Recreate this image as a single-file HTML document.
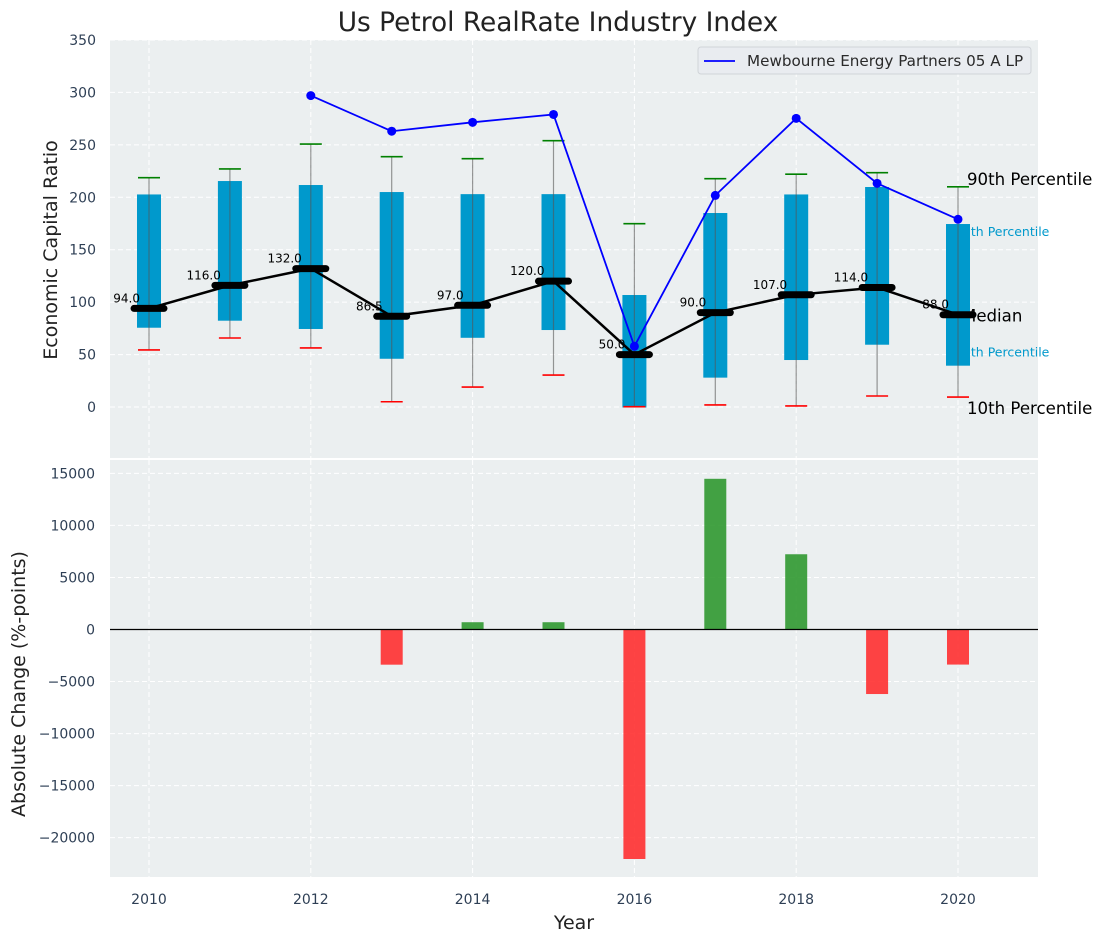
<!DOCTYPE html>
<html><head><meta charset="utf-8"><style>
body{margin:0;background:#fff;}
svg{display:block;font-family:"DejaVu Sans","Liberation Sans",sans-serif;}
</style></head><body>
<svg id="chart" width="1102" height="942" viewBox="0 0 1102 942" xmlns="http://www.w3.org/2000/svg"></svg>
<script>
const years = [2010,2011,2012,2013,2014,2015,2016,2017,2018,2019,2020];
const p10 = [54.4,65.8,56.3,5,19,30.5,0.3,2,1,10.5,9.5];
const p25 = [75.6,82.3,74.4,46,66,73.4,-0.5,28,44.8,59.4,39.4];
const median = [94,116,132,86.5,97,120,50,90,107,114,88];
const p75 = [202.7,215.5,211.7,205,203,203,106.8,185,202.7,209.8,174.5];
const p90 = [218.7,227,250.8,238.7,236.8,254,174.8,217.7,222,223.5,210];
const company = [null,null,297,263,271.5,279,57.9,201.8,275.3,213.3,179];
const changes = [0,0,0,-3380,700,700,-22050,14480,7230,-6200,-3370];
const topTicks = [0,50,100,150,200,250,300,350];
const botTicks = [-20000,-15000,-10000,-5000,0,5000,10000,15000];
const xTicks = [2010,2012,2014,2016,2018,2020];

const svg = document.getElementById('chart');
const NS = 'http://www.w3.org/2000/svg';
function el(tag, attrs, parent){const e=document.createElementNS(NS,tag);for(const k in attrs)e.setAttribute(k,attrs[k]);(parent||svg).appendChild(e);return e;}
const X0=110,X1=1038,T0=40,T1=458,B0=460,B1=877;
function xS(y){return 149+(y-2010)*80.9;}
function yT(v){return 407-v*(367/350);}
function yB(v){return 629.5-v*(52.04/5000);}

let bg=el('rect',{x:X0,y:T0,width:X1-X0,height:T1-T0,fill:'#ebeff0'});


bg=el('rect',{x:X0,y:B0,width:X1-X0,height:B1-B0,fill:'#ebeff0'});



xTicks.forEach(t=>{
  el('line',{x1:xS(t),x2:xS(t),y1:T0,y2:T1,stroke:'#fff','stroke-dasharray':'5,3','stroke-width':1});
  el('line',{x1:xS(t),x2:xS(t),y1:B0,y2:B1,stroke:'#fff','stroke-dasharray':'5,3','stroke-width':1});
  const tl=el('text',{x:xS(t),y:904,'font-size':14,fill:'#2e3f55','text-anchor':'middle'});tl.textContent=t;
  
  
});
topTicks.forEach(t=>{
  el('line',{x1:X0,x2:X1,y1:yT(t),y2:yT(t),stroke:'#fff','stroke-dasharray':'5,3','stroke-width':1});
  const tl=el('text',{x:96,y:yT(t)+5,'font-size':14,fill:'#2e3f55','text-anchor':'end'});tl.textContent=t;
  
  
});
botTicks.forEach(t=>{
  el('line',{x1:X0,x2:X1,y1:yB(t),y2:yB(t),stroke:'#fff','stroke-dasharray':'5,3','stroke-width':1});
  const tl=el('text',{x:95,y:yB(t)+5,'font-size':14,fill:'#2e3f55','text-anchor':'end'});tl.textContent=(t<0?'\u2212'+(-t):t);
  
  
});

const last=years.length-1;
function ann(txt,x,y,size,color,name){const t=el('text',{x:x,y:y,'font-size':size,fill:color});t.textContent=txt;
  
  }
ann('90th Percentile',xS(years[last])+9,yT(p90[last])-2,16.6,'#000','p90-label');
ann('75th Percentile',xS(years[last])-3,yT(p75[last])+12,12.5,'#0099cc','p75-label');
ann('25th Percentile',xS(years[last])-3,yT(p25[last])-9,12.5,'#0099cc','p25-label');
ann('Median',xS(years[last])+4,yT(median[last])+7,16.6,'#000','median-label');
ann('10th Percentile',xS(years[last])+9,yT(p10[last])+17,16.6,'#000','p10-label');

years.forEach((yr,i)=>{
  const cx=xS(yr);
  const b=el('rect',{x:cx-12,y:yT(p75[i]),width:24,height:yT(p25[i])-yT(p75[i]),fill:'#0099cc'});
  
  
  const w=el('line',{x1:cx,x2:cx,y1:yT(p90[i]),y2:yT(p10[i]),stroke:'#555','stroke-opacity':0.6,'stroke-width':1.2});
  
  
  const cu=el('line',{x1:cx-11,x2:cx+11,y1:yT(p90[i]),y2:yT(p90[i]),stroke:'green','stroke-width':1.6});
  
  
  const cl=el('line',{x1:cx-11,x2:cx+11,y1:yT(p10[i]),y2:yT(p10[i]),stroke:'red','stroke-width':1.6});
  
  
});

const mp=el('polyline',{points:years.map((y,i)=>xS(y)+','+yT(median[i])).join(' '),fill:'none',stroke:'#000','stroke-width':2.5});


years.forEach((yr,i)=>{
  const cx=xS(yr),cy=yT(median[i]);
  const m=el('line',{x1:cx-15,x2:cx+15,y1:cy,y2:cy,stroke:'#000','stroke-width':7,'stroke-linecap':'round'});
  
  
  const t=el('text',{x:cx-9,y:cy-6,'font-size':12,fill:'#000','text-anchor':'end'});t.textContent=median[i].toFixed(1);
  
  
});

const pts=[];years.forEach((y,i)=>{if(company[i]!==null)pts.push(xS(y)+','+yT(company[i]));});
const cl=el('polyline',{points:pts.join(' '),fill:'none',stroke:'blue','stroke-width':1.8});


years.forEach((y,i)=>{if(company[i]===null)return;
  const c=el('circle',{cx:xS(y),cy:yT(company[i]),r:4.5,fill:'blue'});
  
  
});

years.forEach((yr,i)=>{
  const v=changes[i]; if(v===0)return;
  const y0=yB(0),y1=yB(v);
  const r=el('rect',{x:xS(yr)-11,y:Math.min(y0,y1),width:22,height:Math.abs(y1-y0),fill:v>0?'#2a962a':'#ff2a2a','fill-opacity':0.88});
  
  
});
const zl=el('line',{x1:X0,x2:X1,y1:yB(0),y2:yB(0),stroke:'#000','stroke-width':1.2});



const lg=el('g',{});


el('rect',{x:698,y:47,width:333,height:27,rx:3,fill:'#e9ecf0',stroke:'#d0d4d8'},lg);
el('line',{x1:704,x2:735,y1:61,y2:61,stroke:'blue','stroke-width':1.8},lg);
const lt=el('text',{x:747,y:66,'font-size':15.2,fill:'#2a2a2a'},lg);lt.textContent='Mewbourne Energy Partners 05 A LP';

function txt(s,attrs,name){const t=el('text',attrs);t.textContent=s;
  
  }
txt('Us Petrol RealRate Industry Index',{x:558,y:31,'font-size':26.4,fill:'#222','text-anchor':'middle'},'chart-title');
txt('Economic Capital Ratio',{x:57,y:250,'font-size':19,fill:'#222','text-anchor':'middle',transform:'rotate(-90 57 250)'},'top-y-axis-title');
txt('Absolute Change (%-points)',{x:25,y:684,'font-size':19,fill:'#222','text-anchor':'middle',transform:'rotate(-90 25 684)'},'bottom-y-axis-title');
txt('Year',{x:574,y:929,'font-size':19,fill:'#222','text-anchor':'middle'},'x-axis-title');
</script>
</body></html>
